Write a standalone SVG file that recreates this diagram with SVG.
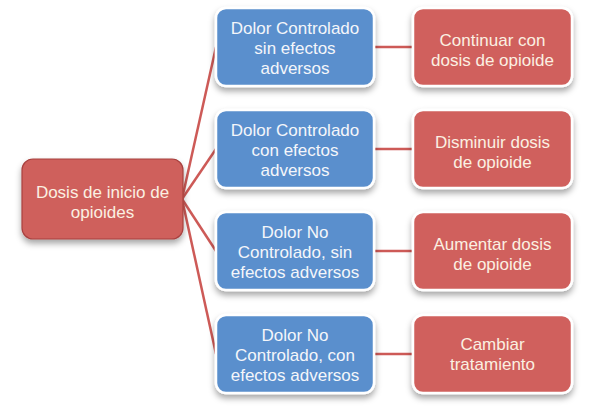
<svg xmlns="http://www.w3.org/2000/svg" width="593" height="417" viewBox="0 0 593 417">
<defs>
<filter id="sh" x="-20%" y="-20%" width="140%" height="150%">
<feDropShadow dx="0" dy="4" stdDeviation="3" flood-color="#000" flood-opacity="0.35"/>
</filter>
<style>
.blue{fill:#5a8fcd;stroke:#ffffff;stroke-width:2.5;filter:url(#sh)}
.red{fill:#d0615d;stroke:#ffffff;stroke-width:2.5;filter:url(#sh)}
.root{fill:#cf605c;stroke:#a8413f;stroke-width:1.2;filter:url(#sh)}
text{font-family:"Liberation Sans",Arial,Helvetica,sans-serif;font-size:17px;text-anchor:middle}
.tb{fill:#f4f6fa}
.tr{fill:#fbf0e2}
.conn line{stroke:#cd5a57;stroke-width:2.5;fill:none}
</style>
</defs>
<rect width="593" height="417" fill="#ffffff"/>
<g class="conn" id="connectors">
<line x1="182" y1="199" x2="216" y2="47"/>
<line x1="182" y1="199" x2="216" y2="149"/>
<line x1="182" y1="199" x2="216" y2="251"/>
<line x1="182" y1="199" x2="216" y2="354"/>
<line x1="374" y1="47" x2="413" y2="47"/>
<line x1="374" y1="149" x2="413" y2="149"/>
<line x1="374" y1="251" x2="413" y2="251"/>
<line x1="374" y1="354" x2="413" y2="354"/>
</g>
<g id="root">
<rect class="root" x="22" y="159" width="161" height="80" rx="11"/>
<text class="tr" x="102.5" y="198">Dosis de inicio de</text>
<text class="tr" x="102.5" y="218">opioides</text>
</g>
<g id="b1">
<rect class="blue" x="216" y="8" width="158" height="78" rx="10"/>
<text class="tb" x="295" y="34">Dolor Controlado</text>
<text class="tb" x="295" y="54">sin efectos</text>
<text class="tb" x="295" y="74">adversos</text>
</g>
<g id="b2">
<rect class="blue" x="216" y="110" width="158" height="78" rx="10"/>
<text class="tb" x="295" y="136">Dolor Controlado</text>
<text class="tb" x="295" y="156">con efectos</text>
<text class="tb" x="295" y="176">adversos</text>
</g>
<g id="b3">
<rect class="blue" x="216" y="212" width="158" height="78" rx="10"/>
<text class="tb" x="295" y="238">Dolor No</text>
<text class="tb" x="295" y="258">Controlado, sin</text>
<text class="tb" x="295" y="278">efectos adversos</text>
</g>
<g id="b4">
<rect class="blue" x="216" y="315" width="158" height="78" rx="10"/>
<text class="tb" x="295" y="341">Dolor No</text>
<text class="tb" x="295" y="361">Controlado, con</text>
<text class="tb" x="295" y="381">efectos adversos</text>
</g>
<g id="r1">
<rect class="red" x="413" y="8" width="159" height="78" rx="10"/>
<text class="tr" x="492.5" y="46">Continuar con</text>
<text class="tr" x="492.5" y="66">dosis de opioide</text>
</g>
<g id="r2">
<rect class="red" x="413" y="110" width="159" height="78" rx="10"/>
<text class="tr" x="492.5" y="148">Disminuir dosis</text>
<text class="tr" x="492.5" y="168">de opioide</text>
</g>
<g id="r3">
<rect class="red" x="413" y="212" width="159" height="78" rx="10"/>
<text class="tr" x="492.5" y="250">Aumentar dosis</text>
<text class="tr" x="492.5" y="270">de opioide</text>
</g>
<g id="r4">
<rect class="red" x="413" y="315" width="159" height="78" rx="10"/>
<text class="tr" x="492.5" y="350">Cambiar</text>
<text class="tr" x="492.5" y="370">tratamiento</text>
</g>
</svg>
